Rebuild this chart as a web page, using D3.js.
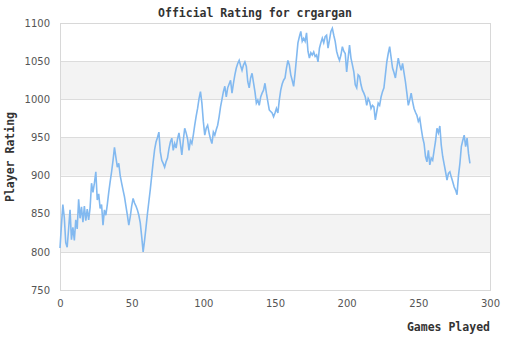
<!DOCTYPE html>
<html><head><meta charset="utf-8">
<script src="https://cdn.jsdelivr.net/npm/d3@7"></script>
<style>body{margin:0;background:#fff}svg{display:block}</style>
</head><body>
<script>
const title = "Official Rating for crgargan";
const xLabel = "Games Played";
const yLabel = "Player Rating";
const xTicks = [0, 50, 100, 150, 200, 250, 300];
const yTicks = [750, 800, 850, 900, 950, 1000, 1050, 1100];
const bands = [[800, 850], [900, 950], [1000, 1050]];
const ratings = [
805,835,862,845,812,806,830,855,816,832,
815,842,830,869,844,859,839,860,841,856,
842,858,890,878,890,905,868,876,857,862,
835,855,848,862,878,892,905,920,937,924,
911,916,900,890,881,872,860,848,835,846,
860,870,864,860,855,848,838,820,800,815,
832,850,866,882,900,918,934,944,950,957,
931,920,916,911,918,923,935,944,949,933,
942,936,948,956,942,927,946,962,956,948,
933,946,942,953,966,978,988,1001,1010,995,
971,953,962,966,956,948,942,957,953,960,
966,977,990,1000,1010,1017,1003,1015,1020,1025,
1008,1021,1032,1041,1047,1051,1044,1038,1045,1049,
1043,1023,1015,1028,1034,1022,1010,995,999,992,
1003,1008,1012,1021,1008,997,986,984,982,977,
982,988,982,999,1012,1020,1025,1028,1041,1051,
1045,1032,1025,1017,1034,1054,1074,1082,1089,1076,
1080,1076,1087,1063,1054,1061,1058,1062,1056,1058,
1049,1067,1074,1080,1074,1082,1084,1067,1078,1089,
1093,1084,1076,1063,1056,1051,1058,1069,1063,1060,
1036,1054,1071,1054,1045,1036,1019,1015,1032,1030,
1019,1012,1008,1003,992,1001,997,988,992,990,
973,984,995,992,1003,1010,1015,1032,1049,1060,
1069,1055,1041,1035,1028,1041,1054,1045,1038,1047,
1035,1023,1008,992,999,1008,997,988,983,979,
971,975,962,950,942,925,918,933,914,923,
920,933,945,962,956,965,940,925,915,905,
894,903,905,898,892,885,881,875,900,916,
938,946,953,938,949,929,916
];

const W = 510, H = 340;
const m = {left: 60, right: 20, top: 23, bottom: 50};
const svg = d3.select("body").append("svg").attr("width", W).attr("height", H);
const x = d3.scaleLinear().domain([0, 300]).range([m.left, W - m.right]);
const y = d3.scaleLinear().domain([750, 1100]).range([H - m.bottom, m.top]);

svg.selectAll("rect.band").data(bands).join("rect").attr("class", "band")
  .attr("x", x(0)).attr("width", x(300) - x(0))
  .attr("y", d => y(d[1])).attr("height", d => y(d[0]) - y(d[1]))
  .attr("fill", "#f3f3f3");

const yAxis = svg.append("g").attr("transform", `translate(${m.left},0)`)
  .call(d3.axisLeft(y).tickValues(yTicks).tickFormat(d3.format("d"))
    .tickSize(-(x(300) - x(0))).tickPadding(10));
yAxis.select(".domain").remove();
yAxis.selectAll("line").attr("stroke", "#dcdcdc").attr("shape-rendering", "crispEdges");
yAxis.selectAll("text").attr("fill", "#555").style("font", "10px 'DejaVu Sans'");

const xAxis = svg.append("g").attr("transform", `translate(0,${y(750)})`)
  .call(d3.axisBottom(x).tickValues(xTicks).tickFormat(d3.format("d")).tickSize(0).tickPadding(10));
xAxis.select(".domain").remove();
xAxis.selectAll("text").attr("fill", "#555").style("font", "10px 'DejaVu Sans'");

svg.append("rect").attr("x", x(0)).attr("y", y(1100))
  .attr("width", x(300) - x(0)).attr("height", y(750) - y(1100))
  .attr("fill", "none").attr("stroke", "#d8d8d8").attr("shape-rendering", "crispEdges");

const line = d3.line().x((d, i) => x(i)).y(d => y(d));
svg.append("path").datum(ratings).attr("d", line)
  .attr("fill", "none").attr("stroke", "#82b9f0").attr("stroke-width", 1.6)
  .attr("stroke-linejoin", "miter");

const tf = "bold 11.5px 'DejaVu Sans Mono'";
svg.append("text").attr("x", 255).attr("y", 17).attr("text-anchor", "middle")
  .attr("fill", "#333").style("font", tf).text(title);
svg.append("text").attr("x", 490).attr("y", 331).attr("text-anchor", "end")
  .attr("fill", "#333").style("font", tf).text(xLabel);
svg.append("text").attr("transform", "translate(14,157) rotate(-90)").attr("text-anchor", "middle")
  .attr("fill", "#333").style("font", tf).text(yLabel);
</script>
</body></html>
